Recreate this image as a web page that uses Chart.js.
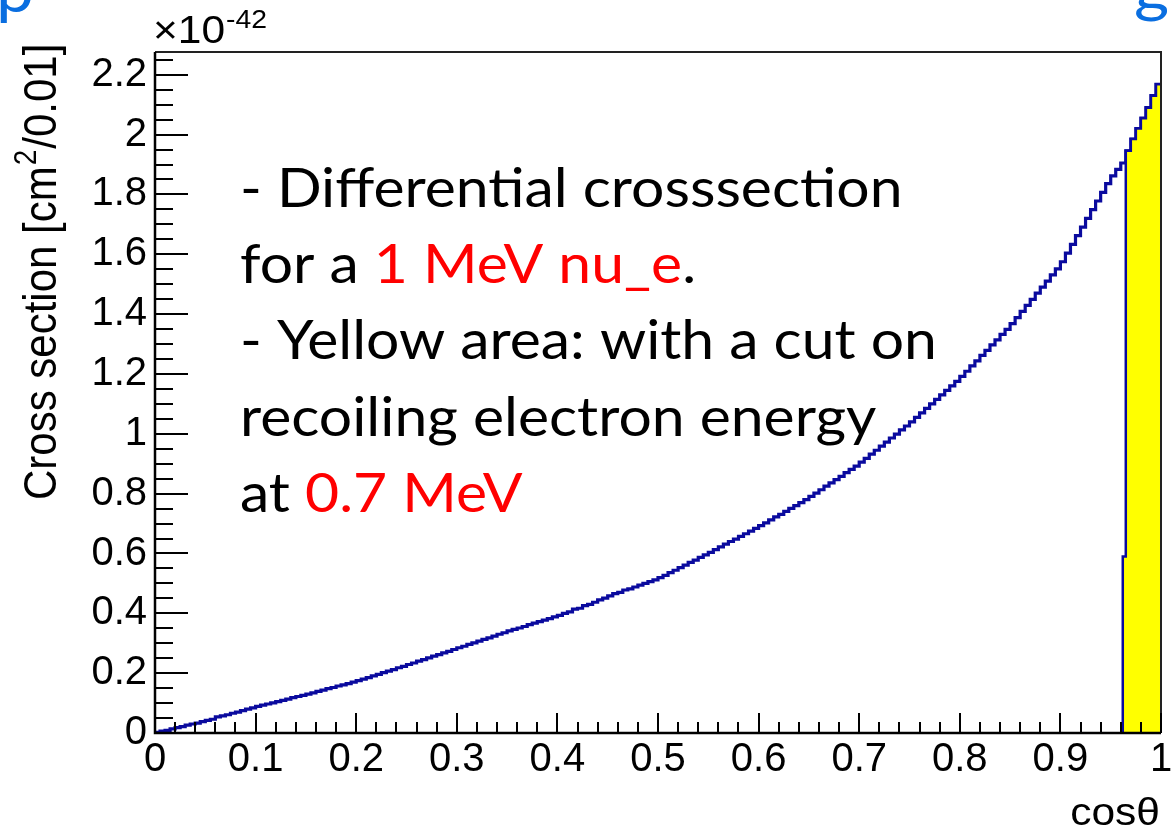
<!DOCTYPE html>
<html>
<head>
<meta charset="utf-8">
<script src="https://cdn.jsdelivr.net/npm/chart.js@4/dist/chart.umd.min.js"></script>
<style>
  html, body { margin: 0; padding: 0; background: #ffffff; }
  #wrap { width: 1171px; height: 830px; position: relative; }
  canvas { display: block; }
</style>
</head>
<body>
<div id="wrap"><canvas id="c" width="1171" height="830"></canvas></div>
<script>
// Differential nu_e - e cross section vs cos(theta), in units of 1e-42 cm^2 / 0.01
const binWidth = 0.005;
const xsec = [
  0.002, 0.006, 0.009, 0.014, 0.018, 0.021, 0.026, 0.030, 0.033, 0.038,
  0.042, 0.046, 0.054, 0.057, 0.061, 0.066, 0.070, 0.075, 0.080, 0.084,
  0.089, 0.093, 0.097, 0.101, 0.105, 0.109, 0.113, 0.118, 0.122, 0.126,
  0.130, 0.134, 0.139, 0.143, 0.148, 0.152, 0.157, 0.161, 0.165, 0.170,
  0.175, 0.180, 0.185, 0.191, 0.196, 0.202, 0.207, 0.212, 0.218, 0.223,
  0.229, 0.234, 0.240, 0.245, 0.251, 0.257, 0.262, 0.268, 0.273, 0.279,
  0.285, 0.290, 0.296, 0.301, 0.307, 0.313, 0.318, 0.324, 0.330, 0.335,
  0.341, 0.346, 0.351, 0.356, 0.362, 0.367, 0.372, 0.377, 0.382, 0.388,
  0.393, 0.400, 0.405, 0.414, 0.417, 0.426, 0.430, 0.437, 0.445, 0.451,
  0.458, 0.466, 0.470, 0.478, 0.482, 0.488, 0.494, 0.500, 0.506, 0.512,
  0.519, 0.527, 0.536, 0.544, 0.553, 0.561, 0.570, 0.578, 0.587, 0.595,
  0.604, 0.613, 0.622, 0.631, 0.640, 0.648, 0.657, 0.666, 0.675, 0.684,
  0.693, 0.702, 0.712, 0.722, 0.731, 0.741, 0.751, 0.760, 0.770, 0.780,
  0.791, 0.802, 0.813, 0.825, 0.836, 0.847, 0.858, 0.870, 0.881, 0.892,
  0.905, 0.918, 0.932, 0.945, 0.959, 0.972, 0.986, 0.999, 1.013, 1.026,
  1.040, 1.055, 1.070, 1.085, 1.100, 1.115, 1.130, 1.145, 1.160, 1.175,
  1.192, 1.209, 1.227, 1.244, 1.262, 1.279, 1.297, 1.314, 1.332, 1.349,
  1.368, 1.388, 1.409, 1.429, 1.449, 1.470, 1.490, 1.510, 1.531, 1.551,
  1.575, 1.604, 1.633, 1.662, 1.691, 1.720, 1.749, 1.778, 1.807, 1.836,
  1.862, 1.884, 1.905, 1.946, 1.985, 2.020, 2.055, 2.090, 2.130, 2.168
];

// Same distribution after the 0.7 MeV recoil-energy cut (bin edges + contents)
const cutEdges  = [0.962, 0.965, 0.970, 0.975, 0.980, 0.985, 0.990, 0.995, 1.000];
const cutValues = [0.590, 1.946, 1.985, 2.020, 2.055, 2.090, 2.130, 2.168];

const xTicks      = [0, 0.1, 0.2, 0.3, 0.4, 0.5, 0.6, 0.7, 0.8, 0.9, 1];
const xTickLabels = ['0', '0.1', '0.2', '0.3', '0.4', '0.5', '0.6', '0.7', '0.8', '0.9', '1'];
const yTicks      = [0, 0.2, 0.4, 0.6, 0.8, 1, 1.2, 1.4, 1.6, 1.8, 2, 2.2];
const yTickLabels = ['0', '0.2', '0.4', '0.6', '0.8', '1', '1.2', '1.4', '1.6', '1.8', '2', '2.2'];
const yExponent   = '-42';
const xTitle      = 'cos\u03B8';
const yTitleParts = ['Cross section [cm', '2', '/0.01]'];

// Annotation lines: [text, colour] segments
const notes = [
  [['- Differential crosssection', '#000000']],
  [['for a ', '#000000'], ['1 MeV nu_e', '#ff0000'], ['.', '#000000']],
  [['- Yellow area: with a cut on', '#000000']],
  [['recoiling electron energy', '#000000']],
  [['at ', '#000000'], ['0.7 MeV', '#ff0000']]
];

const LINE_BLUE = '#0a0a9e';
const AXIS_FONT = '"Liberation Sans", Arial, sans-serif';
const NOTE_FONT = 'Lato, "Open Sans", sans-serif';
const WIDE = 1.09;   // horizontal stretch of the text glyphs

// Histogram outlines as step points (left bin edge -> content)
const mainPts = xsec.map((v, i) => ({ x: i * binWidth, y: v }));
mainPts.push({ x: 1, y: xsec[xsec.length - 1] });

const cutPts = [{ x: cutEdges[0], y: 0 }];
cutValues.forEach((v, i) => cutPts.push({ x: cutEdges[i], y: v }));
cutPts.push({ x: cutEdges[cutEdges.length - 1], y: cutValues[cutValues.length - 1] });

// draw text stretched horizontally around its anchor point
function wideText(ctx, txt, x, y, align) {
  ctx.save();
  ctx.translate(x, y);
  ctx.scale(WIDE, 1);
  ctx.textAlign = align || 'left';
  ctx.fillText(txt, 0, 0);
  const w = ctx.measureText(txt).width * WIDE;
  ctx.restore();
  return w;
}

// ROOT-style frame, inward ticks and text
const rootFrame = {
  id: 'rootFrame',
  afterDatasetsDraw(chart) {
    const { ctx, chartArea: a, scales: { x, y } } = chart;
    ctx.save();
    ctx.strokeStyle = '#222222';
    ctx.lineWidth = 2;
    ctx.beginPath();
    ctx.moveTo(a.left, a.top); ctx.lineTo(a.right, a.top); ctx.lineTo(a.right, a.bottom);
    ctx.stroke();
    ctx.strokeStyle = '#000000';
    ctx.lineWidth = 2.5;
    ctx.beginPath();
    ctx.moveTo(a.left, a.top); ctx.lineTo(a.left, a.bottom); ctx.lineTo(a.right, a.bottom);
    ctx.stroke();

    // x ticks (major every 0.1, minor every 0.02)
    ctx.lineWidth = 2;
    ctx.beginPath();
    for (let k = 0; k <= 50; k++) {
      const px = Math.round(x.getPixelForValue(k * 0.02));
      const len = (k % 5 === 0) ? 20 : 11;
      ctx.moveTo(px, a.bottom); ctx.lineTo(px, a.bottom - len);
    }
    // y ticks (major every 0.2, minor every 0.05)
    for (let k = 0; k * 0.05 <= y.max + 1e-9; k++) {
      const py = Math.round(y.getPixelForValue(k * 0.05));
      const len = (k % 4 === 0) ? 33 : 18;
      ctx.moveTo(a.left, py); ctx.lineTo(a.left + len, py);
    }
    ctx.stroke();
    ctx.restore();
  },
  afterDraw(chart) {
    const { ctx, chartArea: a } = chart;
    ctx.save();
    ctx.fillStyle = '#000000';
    ctx.textBaseline = 'alphabetic';

    // axis multiplier
    ctx.font = '39px ' + AXIS_FONT;
    const w10 = wideText(ctx, '\u00D710', a.left - 2, a.top - 9);
    ctx.font = '26px ' + AXIS_FONT;
    wideText(ctx, yExponent, a.left - 1 + w10, a.top - 24);

    // x title
    ctx.font = '39px ' + AXIS_FONT;
    wideText(ctx, xTitle, a.right - 1, 825, 'right');

    // y title (rotated, reading upward)
    ctx.save();
    ctx.translate(56, 500);
    ctx.rotate(-Math.PI / 2);
    ctx.scale(1, WIDE);
    ctx.textAlign = 'left';
    let cx = 0;
    ctx.font = '42px ' + AXIS_FONT;
    ctx.fillText(yTitleParts[0], cx, 0);
    cx += ctx.measureText(yTitleParts[0]).width;
    ctx.font = '28px ' + AXIS_FONT;
    ctx.fillText(yTitleParts[1], cx + 1, -18);
    cx += ctx.measureText(yTitleParts[1]).width + 2;
    ctx.font = '42px ' + AXIS_FONT;
    ctx.fillText(yTitleParts[2], cx, 0);
    ctx.restore();

    // annotation block
    ctx.font = '54px ' + NOTE_FONT;
    const baselines = [207, 283, 359, 436, 512];
    notes.forEach((line, i) => {
      let nx = 240;
      line.forEach(([txt, col]) => {
        ctx.fillStyle = col;
        nx += wideText(ctx, txt, nx, baselines[i]);
      });
    });

    // slide heading letters peeking in at the top edge
    ctx.fillStyle = '#0a6ee0';
    ctx.font = '62px ' + NOTE_FONT;
    wideText(ctx, 'p', -4, 12);
    wideText(ctx, 'g', 1134, 10);
    ctx.restore();
  }
};

new Chart(document.getElementById('c').getContext('2d'), {
  type: 'line',
  data: {
    datasets: [
      {
        label: 'E_e > 0.7 MeV',
        data: cutPts,
        stepped: true,
        borderColor: LINE_BLUE,
        borderWidth: 2.5,
        backgroundColor: '#ffff00',
        fill: 'origin',
        pointRadius: 0,
        order: 0
      },
      {
        label: 'all',
        data: mainPts,
        stepped: true,
        borderColor: LINE_BLUE,
        borderWidth: 3.2,
        fill: false,
        pointRadius: 0,
        order: 1
      }
    ]
  },
  options: {
    responsive: false,
    animation: false,
    layout: { padding: { left: 0, right: 10, top: 52, bottom: 0 } },
    plugins: { legend: { display: false }, tooltip: { enabled: false } },
    scales: {
      x: {
        type: 'linear',
        min: 0,
        max: 1,
        grid: { display: false, drawTicks: false },
        border: { display: false },
        afterBuildTicks: s => { s.ticks = xTicks.map(v => ({ value: v })); },
        afterFit: s => { s.height = 97; s.paddingLeft = 0; s.paddingRight = 0; },
        ticks: {
          autoSkip: false,
          maxRotation: 0,
          padding: 3,
          color: '#000000',
          font: { family: AXIS_FONT, size: 40 },
          callback: v => xTickLabels[xTicks.indexOf(v)]
        }
      },
      y: {
        type: 'linear',
        min: 0,
        max: 2.276,
        grid: { display: false, drawTicks: false },
        border: { display: false },
        afterBuildTicks: s => { s.ticks = yTicks.map(v => ({ value: v })); },
        afterFit: s => { s.width = 155; s.paddingTop = 0; s.paddingBottom = 0; },
        ticks: {
          autoSkip: false,
          padding: 8,
          color: '#000000',
          font: { family: AXIS_FONT, size: 40 },
          callback: v => yTickLabels[yTicks.indexOf(v)]
        }
      }
    }
  },
  plugins: [rootFrame]
});
</script>
</body>
</html>
